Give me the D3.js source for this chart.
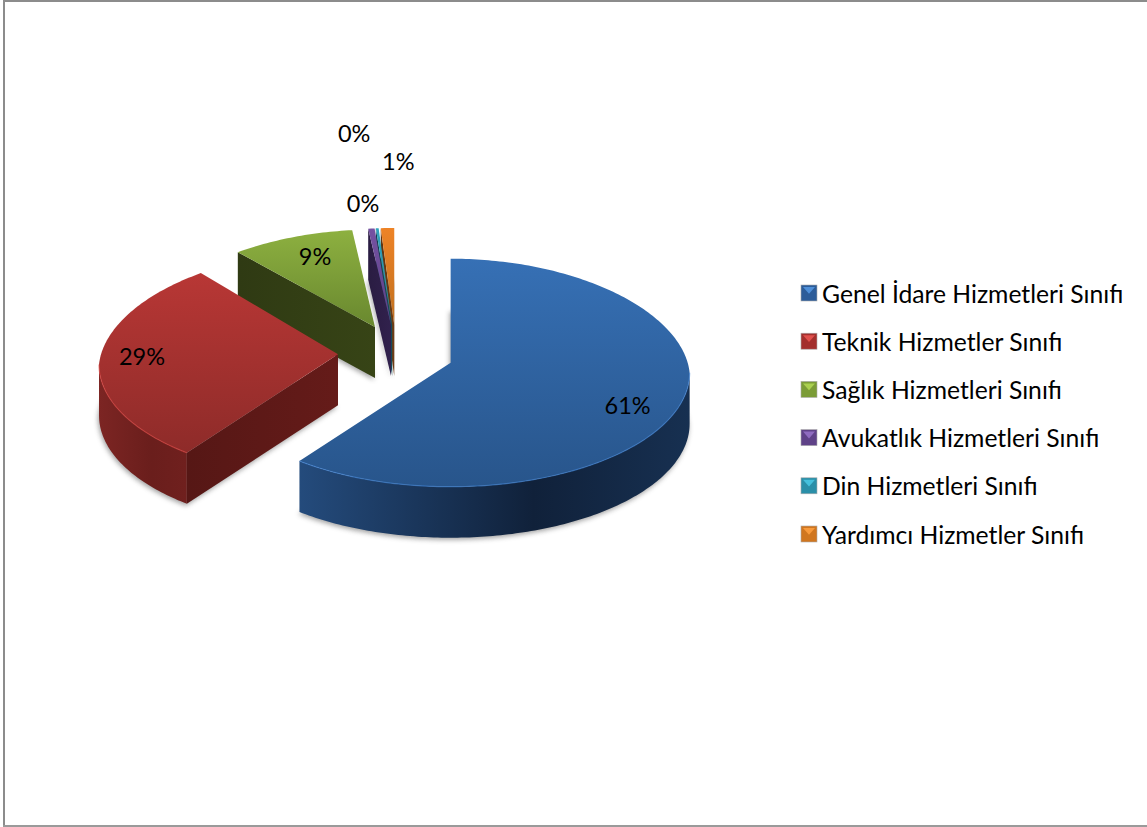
<!DOCTYPE html>
<html>
<head>
<meta charset="utf-8">
<script src="https://cdn.jsdelivr.net/npm/d3@7/dist/d3.min.js"></script>
<style>
  html, body { margin: 0; padding: 0; background: #fff; }
  svg { display: block; }
  text { font-family: Lato, "Noto Sans", sans-serif; fill: #000; }
</style>
</head>
<body>
<div id="chart"></div>
<script>
// Values
const categories = [
  "Genel İdare Hizmetleri Sınıfı",
  "Teknik Hizmetler Sınıfı",
  "Sağlık Hizmetleri Sınıfı",
  "Avukatlık Hizmetleri Sınıfı",
  "Din Hizmetleri Sınıfı",
  "Yardımcı Hizmetler Sınıfı",
];
const shares = [60.9, 28.9, 8.6, 0.45, 0.2, 0.95];

// Styles, one per slice
const topLight = ["#3670b5", "#b83735", "#8db040", "#7552a2", "#2fa3bd", "#ee8326"];
const topDark = ["#28558b", "#8e2b29", "#69882f", "#5d3f85", "#26839a", "#c0701f"];
const faceColor = ["#14263f", "#561715", "#2f3a13", "#2a1c42", "#123f4d", "#5f3410"];
const wallLight = ["#244b7c", "#7c2523", "#3a4717", "#33224f", "#17505f", "#764012"];
const wallDark = ["#10213a", "#6a1e1c", "#2f3a13", "#2a1c42", "#123f4d", "#5f3410"];
const boxColor = ["#2c5c99", "#a32f2d", "#7b9c37", "#5f4288", "#2a8fa8", "#d0761f"];
const boxLight = ["#4f8fd8", "#e0504c", "#aad050", "#8f6cc0", "#45c0dc", "#f89a3c"];

// Label position relative to the slice's rim centre
const labelNudge = [[177, 32], [-196, -8], [-60, -88], [-28, -139], [-38, -209], [4, -181]];

const width = 1147;
const height = 827;
const center = { x: 396, y: 365 };
const rx = 239;
const ry = 114;
const explodeX = 58;
const explodeY = 23;
const depth = 51;
const backShrink = 0.05; // far side of the pie is drawn a little narrower

const svg = d3.select("#chart").append("svg")
  .attr("width", width)
  .attr("height", height);

const defs = svg.append("defs");

const blur = defs.append("filter")
  .attr("id", "soft")
  .attr("x", "-10%").attr("y", "-10%")
  .attr("width", "120%").attr("height", "120%");
blur.append("feGaussianBlur").attr("stdDeviation", 2.5);

// Frame
svg.append("rect").attr("x", 3).attr("y", 0).attr("width", width - 3).attr("height", 2).attr("fill", "#8c8c8c");
svg.append("rect").attr("x", 3).attr("y", 0).attr("width", 2).attr("height", height).attr("fill", "#8c8c8c");
svg.append("rect").attr("x", 3).attr("y", height - 2).attr("width", width - 3).attr("height", 2).attr("fill", "#9a9a9a");

const pie = d3.pie().sort(null).value((d) => d);
const slices = pie(shares);

// Slice geometry
const lineGen = d3.line().x((d) => d[0]).y((d) => d[1]);

function rimPoint(c, a) {
  const shrink = 1 - backShrink * Math.max(0, Math.cos(a));
  return [c.x + rx * shrink * Math.sin(a), c.y - ry * Math.cos(a)];
}

function arcPoints(c, a0, a1) {
  const n = Math.max(2, Math.ceil(Math.abs(a1 - a0) * 60));
  return d3.range(n + 1).map((i) => rimPoint(c, a0 + ((a1 - a0) * i) / n));
}

function down(pts) {
  return pts.map((p) => [p[0], p[1] + depth]);
}

function geometry(d) {
  const mid = (d.startAngle + d.endAngle) / 2;
  const c = {
    x: center.x + explodeX * Math.sin(mid),
    y: center.y - explodeY * Math.cos(mid),
  };
  const apex = [c.x, c.y - (10 + 7 * Math.max(0, Math.cos(mid)))];
  return { mid, c, apex };
}

const wallGrad = (i, x0, x1) => {
  const g = defs.append("linearGradient")
    .attr("id", `wall${i}`)
    .attr("gradientUnits", "userSpaceOnUse")
    .attr("x1", x0).attr("x2", x1).attr("y1", 0).attr("y2", 0);
  g.append("stop").attr("offset", 0).attr("stop-color", wallLight[i]);
  g.append("stop").attr("offset", 0.6).attr("stop-color", wallDark[i]);
  g.append("stop").attr("offset", 1).attr("stop-color", d3.interpolateRgb(wallDark[i], wallLight[i])(0.35));
};

slices.forEach((d, i) => {
  const g = defs.append("linearGradient")
    .attr("id", `top${i}`)
    .attr("x1", 0).attr("x2", 0).attr("y1", 0).attr("y2", 1);
  g.append("stop").attr("offset", 0).attr("stop-color", topLight[i]);
  g.append("stop").attr("offset", 1).attr("stop-color", topDark[i]);
});

// Back to front
const drawOrder = [5, 4, 3, 2, 1, 0];
const pieLayer = svg.append("g");

drawOrder.forEach((i) => {
  const d = slices[i];
  const { c, apex } = geometry(d);
  const group = pieLayer.append("g");

  const rim = arcPoints(c, d.startAngle, d.endAngle);
  const top = [apex].concat(rim);

  // Soft shadow under the slice
  group.append("path")
    .attr("d", lineGen(down(top).map((p) => [p[0] - 1, p[1] + 2])) + "Z")
    .attr("fill", "#555")
    .attr("opacity", 0.55)
    .attr("filter", "url(#soft)");

  // Outer wall, only the part that faces the viewer
  const a0 = Math.max(d.startAngle, Math.PI / 2);
  const a1 = Math.min(d.endAngle, (3 * Math.PI) / 2);
  if (a1 > a0) {
    const front = arcPoints(c, a0, a1);
    const xs = d3.extent(front, (p) => p[0]);
    wallGrad(i, xs[0], xs[1]);
    group.append("path")
      .attr("d", lineGen(front.concat(down(front).reverse())) + "Z")
      .attr("fill", `url(#wall${i})`);
  }

  // Cut face on the start side
  if (Math.sin(d.startAngle) < -0.01) {
    const s = rim[0];
    const fg = defs.append("linearGradient")
      .attr("id", `face${i}`)
      .attr("gradientUnits", "userSpaceOnUse")
      .attr("x1", s[0]).attr("x2", apex[0]).attr("y1", 0).attr("y2", 0);
    fg.append("stop").attr("offset", 0).attr("stop-color", faceColor[i]);
    fg.append("stop").attr("offset", 1).attr("stop-color", d3.color(faceColor[i]).brighter(0.45));
    group.append("path")
      .attr("d", lineGen([apex, s, [s[0], s[1] + depth], [apex[0], apex[1] + depth]]) + "Z")
      .attr("fill", `url(#face${i})`);
  }

  // Top face
  group.append("path")
    .attr("d", lineGen(top) + "Z")
    .attr("fill", `url(#top${i})`);

  // Bevel highlight on the front rim
  if (a1 > a0) {
    group.append("path")
      .attr("d", lineGen(arcPoints(c, a0, a1)))
      .attr("fill", "none")
      .attr("stroke", d3.color(topLight[i]).brighter(0.5))
      .attr("stroke-opacity", 0.6)
      .attr("stroke-width", 1.2);
  }
});

// Data labels
slices.forEach((d, i) => {
  const { c } = geometry(d);
  svg.append("text")
    .attr("x", c.x + labelNudge[i][0])
    .attr("y", c.y + labelNudge[i][1])
    .attr("text-anchor", "middle")
    .attr("dominant-baseline", "central")
    .attr("font-size", 23.5)
    .text(`${Math.round(d.data)}%`);
});

// Legend
const legendY = d3.scalePoint()
  .domain(categories)
  .range([293, 534]);

const legend = svg.append("g");
const boxSize = 16;

categories.forEach((name, i) => {
  const y = legendY(name);
  const row = legend.append("g").attr("transform", `translate(801,${y - boxSize / 2})`);
  row.append("rect")
    .attr("width", boxSize).attr("height", boxSize)
    .attr("fill", boxColor[i])
    .attr("stroke", "#aaa")
    .attr("stroke-width", 0.6);
  row.append("path")
    .attr("d", lineGen([[2, 2], [boxSize - 2, 2], [boxSize / 2, boxSize * 0.55]]) + "Z")
    .attr("fill", boxLight[i]);
  legend.append("text")
    .attr("x", 822)
    .attr("y", y)
    .attr("dominant-baseline", "central")
    .attr("font-size", 24.7)
    .text(name);
});
</script>
</body>
</html>
